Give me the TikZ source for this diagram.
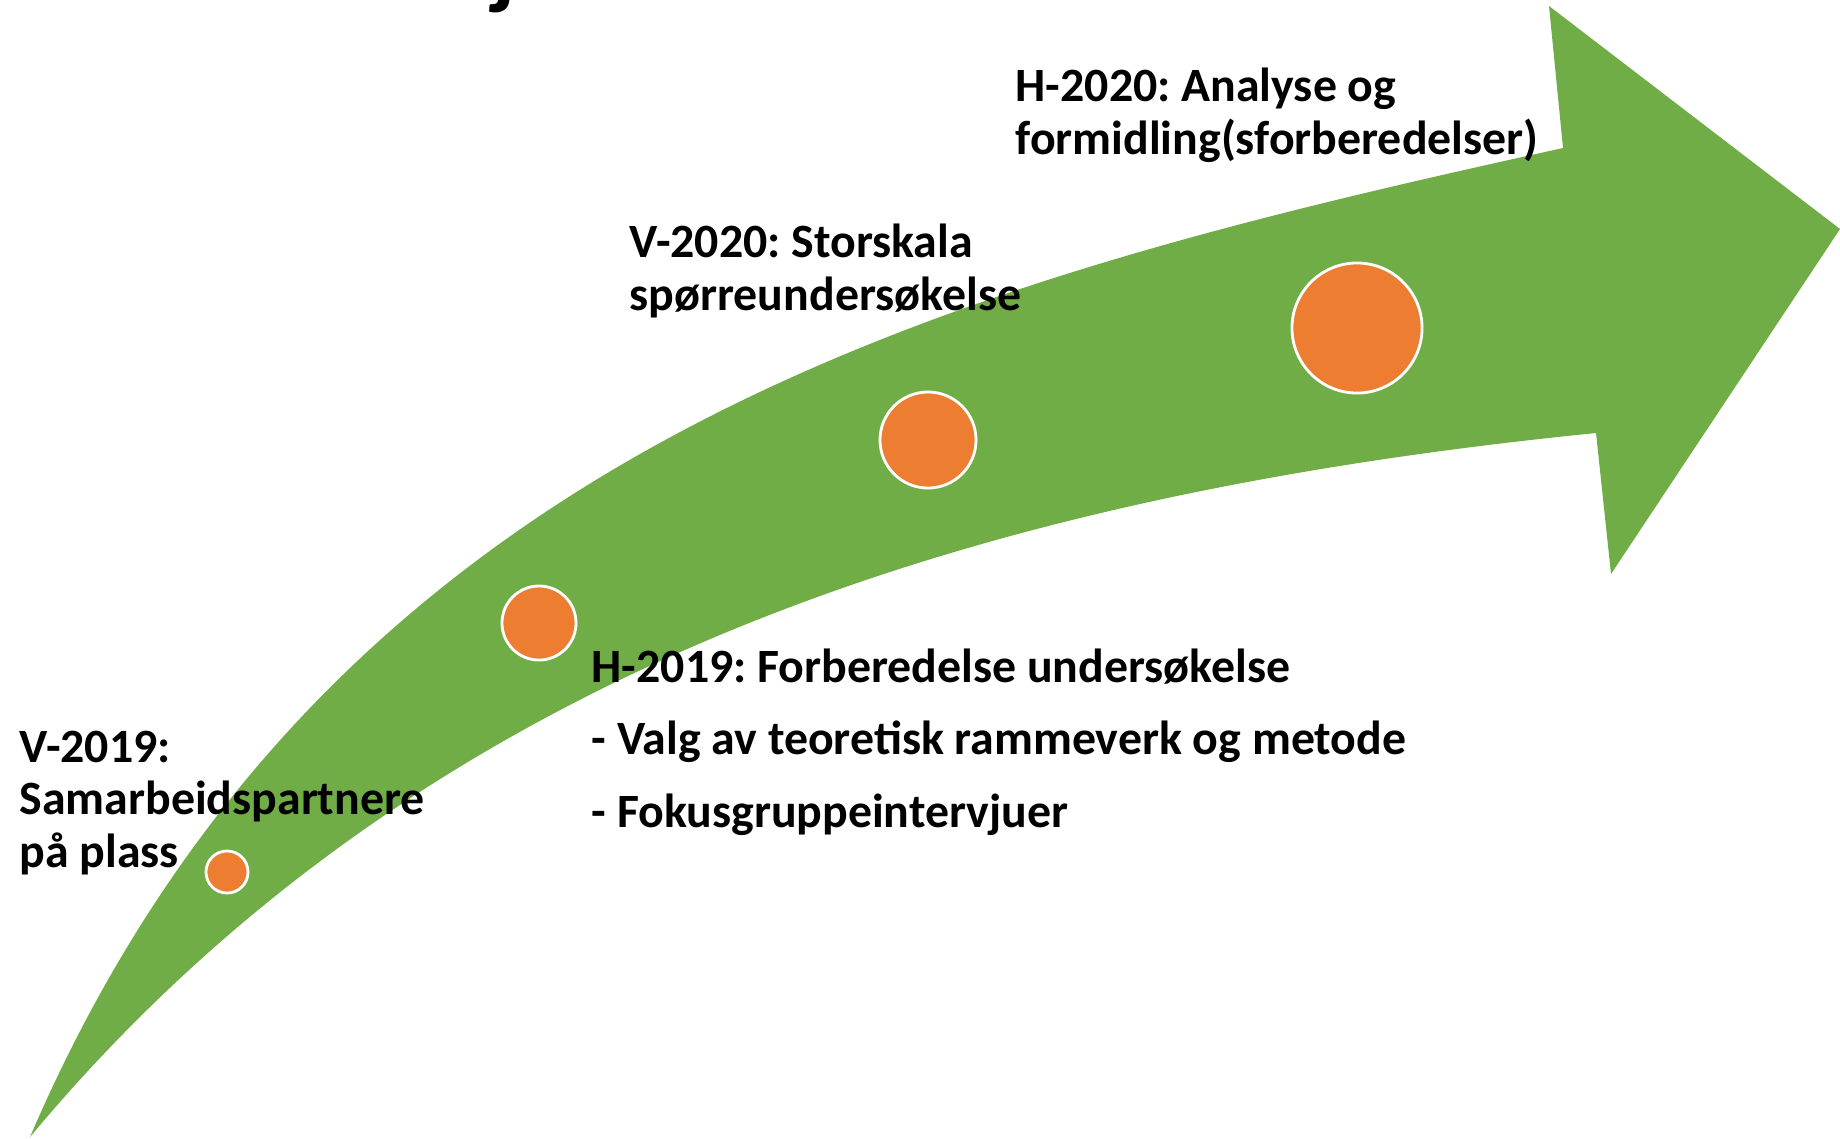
\documentclass[tikz,border=0pt]{standalone}
\usepackage{fontspec}
\setmainfont{Carlito}
\frenchspacing
\definecolor{arrowgreen}{HTML}{70AD47}
\definecolor{dotorange}{HTML}{ED7D31}
\begin{document}
\begin{tikzpicture}[x=0.01cm,y=-0.01cm,
  lbl/.style={font=\fontsize{13.6}{14.8}\selectfont\bfseries, align=left, anchor=base west, inner sep=0pt},
  lblwide/.style={lbl, font=\fontsize{13.6}{20.5}\selectfont\bfseries},
  dot/.style={circle, fill=dotorange, draw=white, line width=0.8pt, inner sep=0pt}]
\useasboundingbox (0,0) rectangle (1840,1138);
\clip (0,0) rectangle (1840,1138);
% curved arrow
\fill[arrowgreen] (30,1137) .. controls (330,438) and (963,280) .. (1563,148)
  -- (1549,6) -- (1840,229) -- (1611,574) -- (1596,433)
  .. controls (996,493) and (430,657) .. (30,1137) -- cycle;
% milestones
\node[dot, minimum size=0.42cm] (d1) at (227,872) {};
\node[dot, minimum size=0.74cm] (d2) at (539,623) {};
\node[dot, minimum size=0.96cm] (d3) at (928,440) {};
\node[dot, minimum size=1.30cm] (d4) at (1357,328) {};
% cut-off title fragment
\node[anchor=base west, inner sep=0pt, font=\fontsize{26}{30}\selectfont\bfseries] (title) at (492,-3) {j};
% labels (anchored at the baseline of their last line)
\node[lbl] (t1) at (19,867) {V-2019:\\Samarbeidspartnere\\på plass};
\node[lblwide] (t2) at (591,827) {H-2019: Forberedelse undersøkelse\\- Valg av teoretisk rammeverk og metode\\- Fokusgruppeintervjuer};
\node[lbl] (t3) at (629,310) {V-2020: Storskala\\spørreundersøkelse};
\node[lbl] (t4) at (1015,154) {H-2020: Analyse og\\formidling(sforberedelser)};
\end{tikzpicture}
\end{document}
